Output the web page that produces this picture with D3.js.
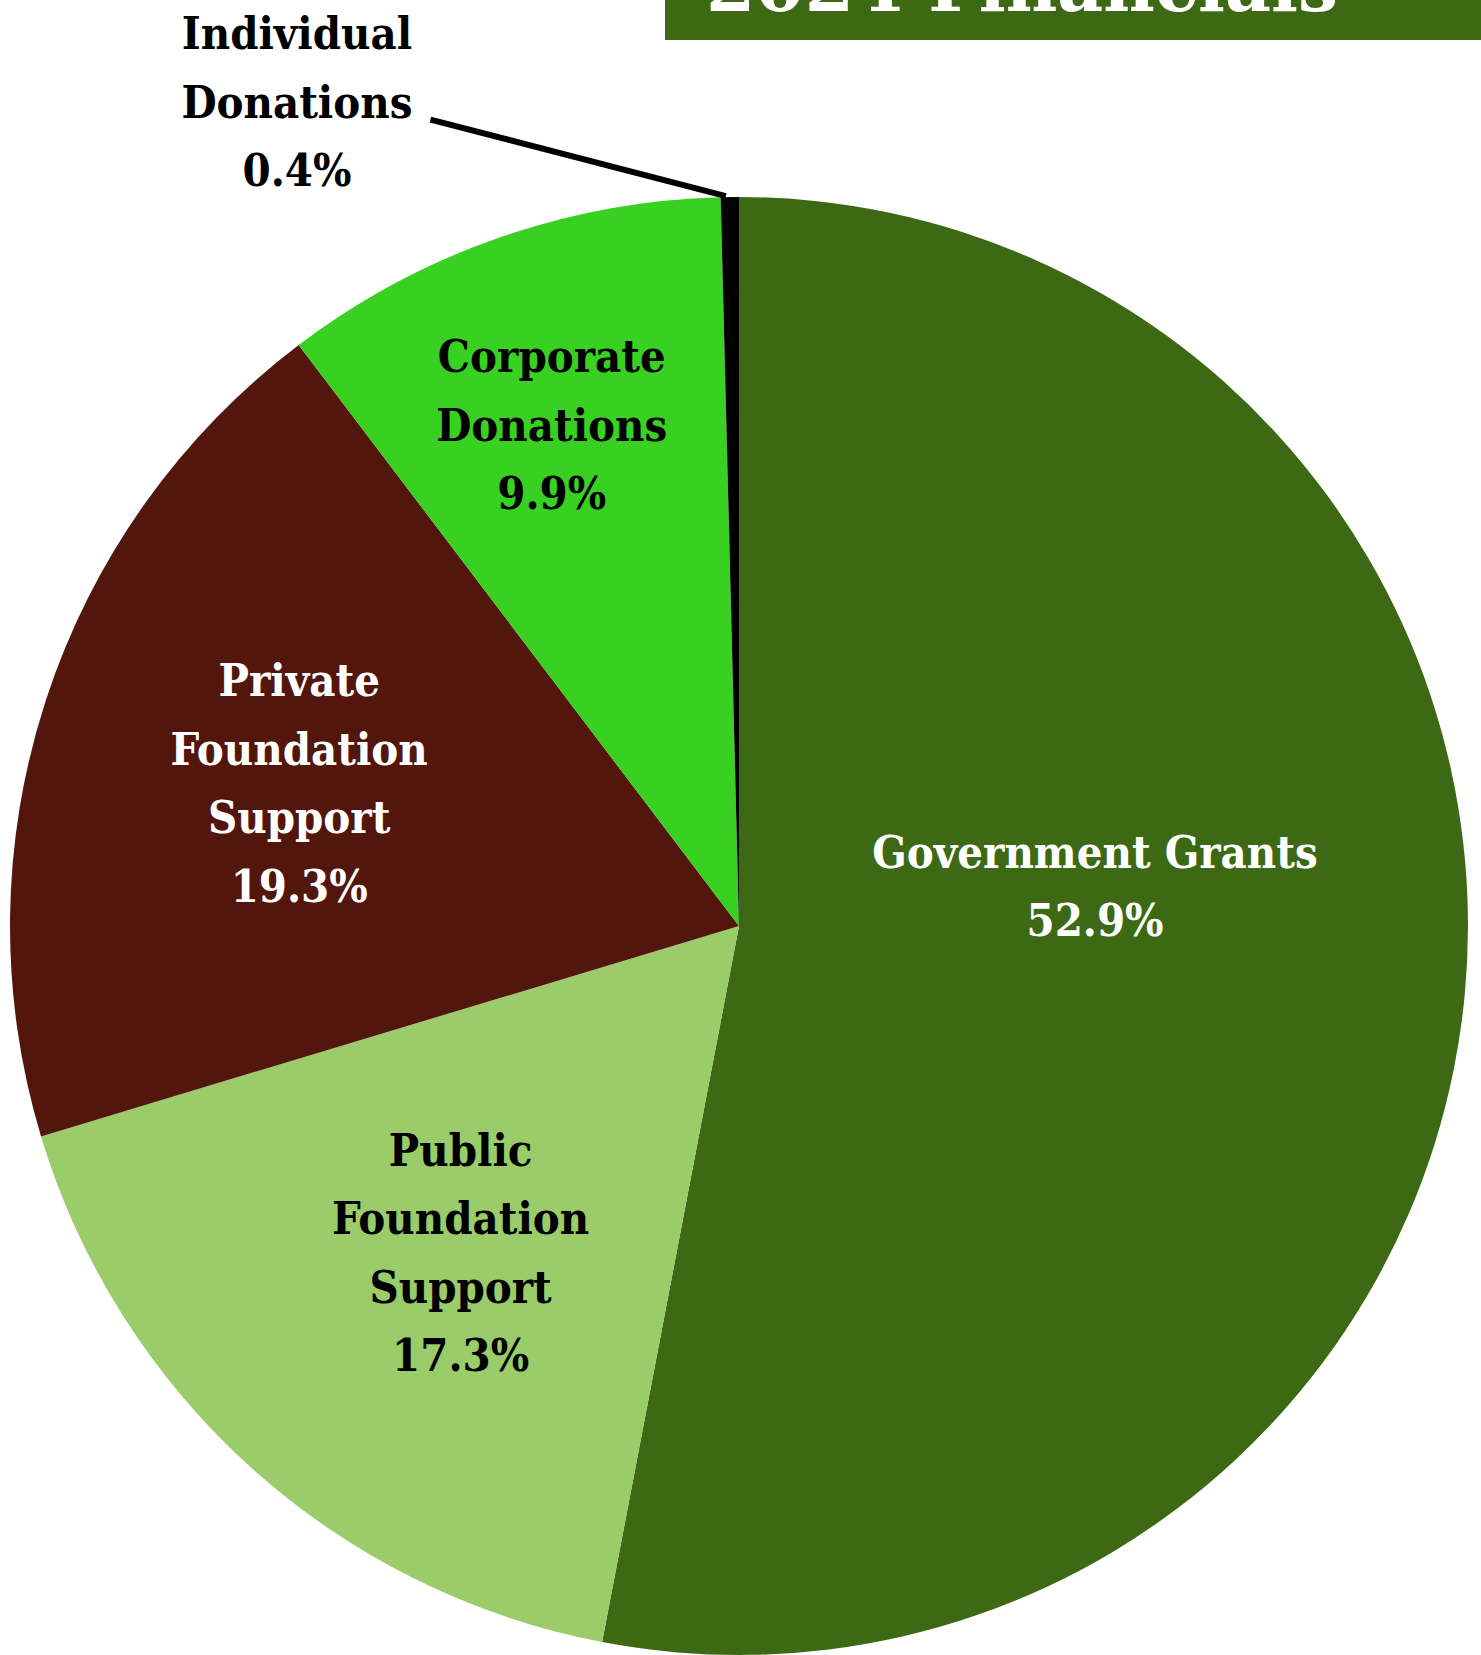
<!DOCTYPE html>
<html>
<head>
<meta charset="utf-8">
<script src="https://cdn.jsdelivr.net/npm/d3@7"></script>
<style>
	body { margin: 0; background: #fff; }
	svg { display: block; }
</style>
</head>
<body>
<div id="chart"></div>
<script>

// data
const categories = ["Government Grants", "Public Foundation Support", "Private Foundation Support", "Corporate Donations", "Individual Donations"];
const shares = [52.9, 17.3, 19.3, 9.9, 0.4];
const labelLines = [
	["Government Grants"],
	["Public", "Foundation", "Support"],
	["Private", "Foundation", "Support"],
	["Corporate", "Donations"],
	["Individual", "Donations"]
];
const title = "2024 Financials";

const sliceColors = ["#3e6914", "#9acc6a", "#52160c", "#39d121", "#000000"];
const labelColors = ["#ffffff", "#000000", "#ffffff", "#000000", "#000000"];

const WIDTH = 1481;
const HEIGHT = 1655;
const CX = 739;
const CY = 926;
const RADIUS = 729;
const LINE_HEIGHT = 68.5;
const BASELINE_SHIFT = 5;
const FONT = "\"DejaVu Serif Condensed\", \"DejaVu Serif\", serif";

// where each label sits: fraction of radius + angle nudge in degrees
const labelPlacement = [
	{ k: 0.49, shift: -10.1 },
	{ k: 0.60, shift: -2.5 },
	{ k: 0.63, shift: -1.3 },
	{ k: 0.72, shift: -1.6 },
	{ k: 1.27, shift: -27.8 }
];

const data = categories.map((c, i) => ({ name: c, value: shares[i], i: i }));

const svg = d3.select("#chart").append("svg")
	.attr("width", WIDTH)
	.attr("height", HEIGHT);

// title banner, cut at the top edge
const banner = svg.append("g");
banner.append("rect")
	.attr("x", 665)
	.attr("y", -40)
	.attr("width", WIDTH - 665)
	.attr("height", 80)
	.attr("fill", sliceColors[0]);
banner.append("text")
	.attr("x", 1022)
	.attr("y", 11)
	.attr("text-anchor", "middle")
	.attr("font-family", "\"DejaVu Serif\", serif")
	.attr("font-weight", "bold")
	.attr("font-size", 71)
	.attr("fill", "#fff")
	.text(title);

const pie = d3.pie()
	.sort(null)
	.value(d => d.value);

const arc = d3.arc()
	.innerRadius(0)
	.outerRadius(RADIUS);

const arcs = pie(data);

const g = svg.append("g")
	.attr("transform", "translate(" + CX + "," + CY + ")");

g.selectAll(".slice")
	.data(arcs)
	.enter()
	.append("path")
	.attr("class", "slice")
	.attr("d", arc)
	.attr("fill", d => sliceColors[d.data.i]);

const pct = d3.format(".1f");

function labelPoint (d) {
	let p = labelPlacement[d.data.i];
	let a = (d.startAngle + d.endAngle) / 2 + p.shift * Math.PI / 180;
	let r = RADIUS * p.k;
	return [r * Math.sin(a), -r * Math.cos(a) + BASELINE_SHIFT];
}

const labels = g.selectAll(".label")
	.data(arcs)
	.enter()
	.append("text")
	.attr("class", "label")
	.attr("text-anchor", "middle")
	.attr("font-family", FONT)
	.attr("font-weight", "bold")
	.attr("font-size", 45)
	.attr("fill", d => labelColors[d.data.i]);

labels.each(function (d) {
	let lines = labelLines[d.data.i].concat([pct(d.data.value) + "%"]);
	let [x, y] = labelPoint(d);
	let top = y - (lines.length - 1) / 2 * LINE_HEIGHT;
	d3.select(this).selectAll("tspan")
		.data(lines)
		.enter()
		.append("tspan")
		.attr("x", x)
		.attr("y", (l, j) => top + j * LINE_HEIGHT)
		.text(l => l);
});

// leader line for the thin slice with its label outside
const outside = arcs.filter(d => labelPlacement[d.data.i].k > 1);
outside.forEach(d => {
	let node = labels.filter(e => e === d).node();
	let w = d3.max(Array.from(node.querySelectorAll("tspan")), t => t.getComputedTextLength());
	let [lx, ly] = labelPoint(d);
	let a = (d.startAngle + d.endAngle) / 2;
	g.append("line")
		.attr("x1", RADIUS * Math.sin(a) - 4)
		.attr("y1", -RADIUS * Math.cos(a) - 1)
		.attr("x2", lx + w / 2 + 18)
		.attr("y2", ly + 2)
		.attr("stroke", "#000")
		.attr("stroke-width", 6);
});

</script>
</body>
</html>
